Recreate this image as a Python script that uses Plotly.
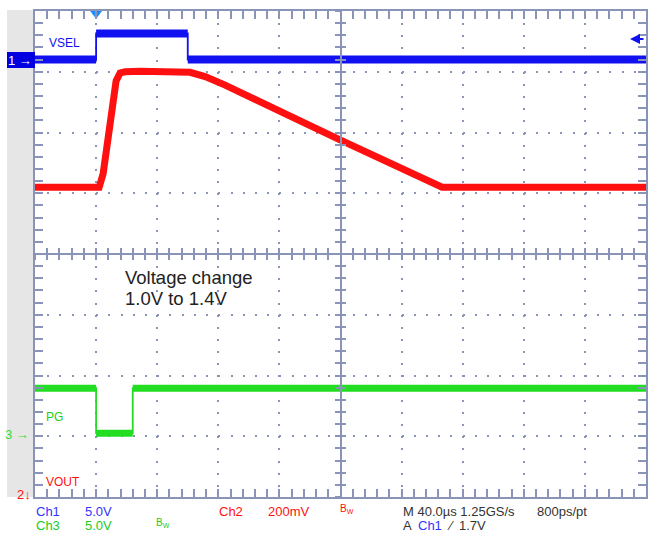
import plotly.graph_objects as go

# time in microseconds (40 us/div), trigger at t = 0; levels in screen divisions
vsel_t = [-40, 0, 0, 60, 60, 360]
vsel_v = [3.20, 3.20, 3.63, 3.63, 3.20, 3.20]

vout_t = [-40, 2, 4.6, 7.9, 10.5, 13.1, 15.7, 19, 28.8, 40, 61.5, 71.4, 84.5, 159.7, 222.6, 226.5, 360]
vout_v = [1.10, 1.10, 1.32, 1.88, 2.42, 2.85, 2.98, 3.00, 3.01, 3.00, 2.99, 2.92, 2.78, 1.88, 1.14, 1.10, 1.10]

pg_t = [-40, 0, 0, 24, 24, 360]
pg_v = [-2.21, -2.21, -2.95, -2.95, -2.21, -2.21]

BLUE = "#1010f0"
RED = "#ff1010"
GREEN = "#22dd22"
GRID = "#8a93b8"

W, H = 650, 534
L, R, T, B = 35, 4, 11, 37
PW, PH = W - L - R, H - T - B


def px(x):
    return (x - L) / PW


def py(y):
    return (H - B - y) / PH


def levels(t, v):
    xs, ys = [], []
    for i in range(len(t) - 1):
        if v[i] == v[i + 1]:
            xs += [t[i], t[i + 1], None]
            ys += [v[i], v[i + 1], None]
    return xs, ys


fig = go.Figure()

fig.add_trace(go.Scatter(x=vout_t, y=vout_v, mode="lines",
                         line=dict(color=RED, width=7)))

for t, v, c, w in [(vsel_t, vsel_v, BLUE, 8), (pg_t, pg_v, GREEN, 7)]:
    fig.add_trace(go.Scatter(x=t, y=v, mode="lines", line=dict(color=c, width=1.8)))
    lx, ly = levels(t, v)
    fig.add_trace(go.Scatter(x=lx, y=ly, mode="lines", line=dict(color=c, width=w)))

# trigger marker
fig.add_trace(go.Scatter(x=[0], y=[3.97], mode="markers", cliponaxis=False,
                         marker=dict(symbol="triangle-down", size=12, color="#1a8cff",
                                     line=dict(width=0))))

# dummy traces so the centre cross axes are drawn
for xa, ya in [("x2", "y"), ("x3", "y"), ("x", "y2"), ("x", "y3")]:
    fig.add_trace(go.Scatter(x=[None], y=[None], xaxis=xa, yaxis=ya, hoverinfo="skip"))

frame = dict(showline=True, mirror="allticks", linecolor=GRID, linewidth=1.5,
             ticks="inside", ticklen=8, tickwidth=1.5, tickcolor=GRID,
             showticklabels=False, showgrid=True, gridcolor=GRID, gridwidth=2,
             zeroline=False, fixedrange=True)

fig.update_layout(
    width=W, height=H,
    margin=dict(l=L, r=R, t=T, b=B, autoexpand=False),
    paper_bgcolor="white", plot_bgcolor="white",
    showlegend=False,
    xaxis=dict(range=[-40, 360], dtick=40, tick0=0, griddash="2px,10.15px",
               minor=dict(ticks="inside", ticklen=5, dtick=8, tick0=0,
                          tickcolor=GRID, tickwidth=1.5, showgrid=False),
               **frame),
    yaxis=dict(range=[-4, 4], dtick=1, tick0=0, griddash="2px,10.22px",
               minor=dict(ticks="inside", ticklen=5, dtick=0.2, tick0=0,
                          tickcolor=GRID, tickwidth=1.5, showgrid=False),
               **frame),
)

centre = dict(showline=True, linecolor=GRID, linewidth=1.5, ticklen=5,
              tickwidth=1.5, tickcolor=GRID, showticklabels=False,
              showgrid=False, zeroline=False, fixedrange=True)
fig.update_layout(
    xaxis2=dict(overlaying="x", anchor="free", position=0.5, range=[-40, 360],
                dtick=8, tick0=0, ticks="inside", **centre),
    xaxis3=dict(overlaying="x", anchor="free", position=0.5, range=[-40, 360],
                dtick=8, tick0=0, ticks="outside", **centre),
    yaxis2=dict(overlaying="y", anchor="free", position=0.5, range=[-4, 4],
                dtick=0.2, tick0=0, ticks="inside", **centre),
    yaxis3=dict(overlaying="y", anchor="free", position=0.5, range=[-4, 4],
                dtick=0.2, tick0=0, ticks="outside", **centre),
)

# grey strip on the left and channel marker box
fig.add_shape(type="rect", xref="paper", yref="paper", x0=px(7), x1=px(34.5),
              y0=py(497), y1=py(10), fillcolor="#e6e6e6", line_width=0, layer="below")
fig.add_shape(type="rect", xref="paper", yref="paper", x0=px(7), x1=px(35),
              y0=py(68), y1=py(52), fillcolor="#0000e0", line_width=0)

FONT = "Liberation Sans, Arial, sans-serif"


def label(x, y, text, color, size=12, anchor="left"):
    fig.add_annotation(xref="paper", yref="paper", x=px(x), y=py(y), text=text,
                       showarrow=False, xanchor=anchor, yanchor="middle",
                       font=dict(family=FONT, size=size, color=color))


label(34, 60, "1 →", "white", 13, "right")
label(31, 434, "3 →", "#33dd33", 13, "right")
label(33, 494, "2↓", RED, 13, "right")

label(47, 43, "VSEL", BLUE)
label(44, 417, "PG", "#22cc22")
label(44, 482, "VOUT", RED)

label(123, 277, "Voltage change", "#222222", 18.5)
label(123, 298, "1.0V to 1.4V", "#222222", 18.5)

# channel-back arrow at the right edge
fig.add_annotation(xref="paper", yref="paper", x=px(630), y=py(39), ax=15, ay=0,
                   text="", showarrow=True, arrowhead=2, arrowsize=1,
                   arrowwidth=2, arrowcolor=BLUE)

# readout line under the screen
label(34, 511, "Ch1", "#3333ff", 13)
label(83, 511, "5.0V", "#3333ff", 13)
label(217, 511, "Ch2", RED, 13)
label(266, 511, "200mV", RED, 13)
label(338, 509, "B<sub>W</sub>", RED, 10)
label(401, 511, "M 40.0µs 1.25GS/s", "#333333", 13)
label(535, 511, "800ps/pt", "#333333", 13)

label(34, 525, "Ch3", "#22cc22", 13)
label(83, 525, "5.0V", "#22cc22", 13)
label(154, 523, "B<sub>W</sub>", "#22cc22", 10)
label(401, 525, "A", "#333333", 13)
label(416, 525, "Ch1", "#3333ff", 13)
label(445, 525, "⁄", "#333333", 13)
label(457, 525, "1.7V", "#333333", 13)

fig.write_html("out.html", config={"displayModeBar": False},
               post_script="document.body.style.margin='0';")
